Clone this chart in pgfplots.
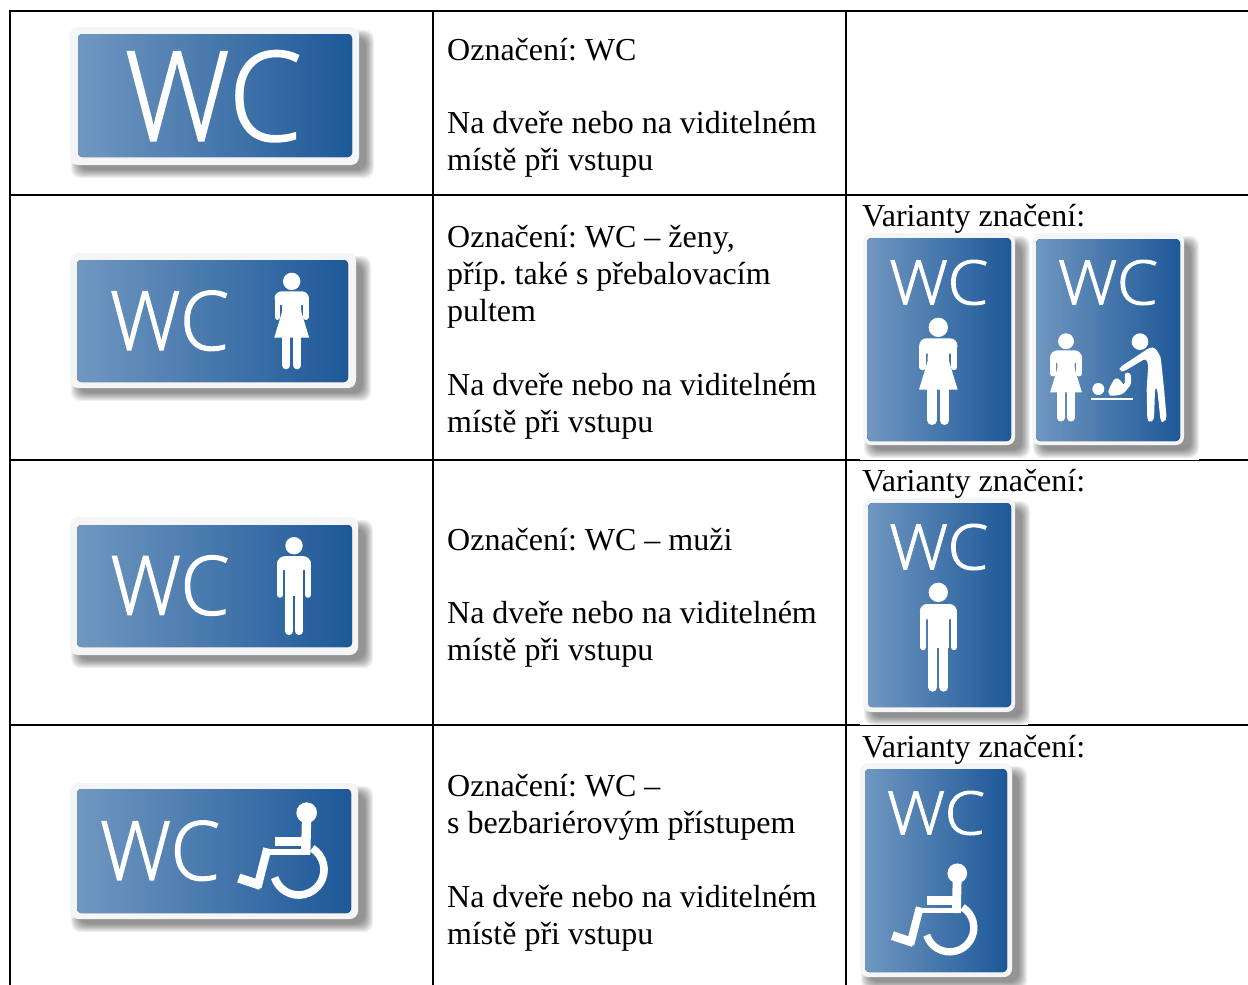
\documentclass[border=0pt]{standalone}
\usepackage{pgfplots}
\pgfplotsset{compat=1.18}
\usepackage{graphicx}
\usepackage{fontspec}
\setmainfont{Liberation Serif}
\newfontfamily\wcfont[FakeBold=1.6]{Open Sans Light}
\definecolor{bluea}{HTML}{7097C0}
\definecolor{blueb}{HTML}{1D5898}
\definecolor{rim}{HTML}{F3F5F7}
\tikzset{gl/.style n args={3}{white, shift={(axis cs:#1,#2)}, yscale=-1, scale=#3}}
\newcommand\txt{\fontsize{32}{37}\selectfont\frenchspacing}
\newcommand\tline[3]{\node[anchor=base west,inner sep=0pt,font=\txt,text=black] at (axis cs:#1,#2) {#3};}
\newcommand\shadowrect[4]{\fill[black,opacity=0.06,rounded corners=9pt] (axis cs:#1,#2) rectangle (axis cs:#3,#4);}
\newcommand\sign[8]{%
  \shadowrect{#1+1}{#2+3}{#3+15}{#4+13}%
  \shadowrect{#1+2}{#2+4}{#3+14}{#4+12}%
  \shadowrect{#1+3}{#2+5}{#3+13}{#4+11}%
  \shadowrect{#1+4}{#2+6}{#3+12}{#4+10}%
  \shadowrect{#1+5}{#2+7}{#3+11}{#4+9}%
  \shadowrect{#1+6}{#2+8}{#3+10}{#4+8}%
  \shadowrect{#1+7}{#2+9}{#3+9}{#4+7}%
  \shadowrect{#1+8}{#2+10}{#3+8}{#4+6}%
  \shadowrect{#1+9}{#2+11}{#3+7}{#4+5}%
  \fill[rim,rounded corners=8pt] (axis cs:#1,#2) rectangle (axis cs:#3,#4);
  \fill[left color=bluea,right color=blueb,rounded corners=4pt] (axis cs:#5,#6) rectangle (axis cs:#7,#8);
}
\newcommand\wc[4]{\node[inner sep=0pt,text=white] at (axis cs:#1,#2) {\resizebox*{#3pt}{#4pt}{\wcfont WC}};}
\newcommand\woman[3]{%
  \fill[gl={#1}{#2}{#3}] (0pt,29pt) circle[radius=29pt];
  \fill[gl={#1}{#2}{#3},rounded corners=7pt] (-57pt,62pt) rectangle (57pt,108pt);
  \draw[gl={#1}{#2}{#3},line width=#3*19pt,line cap=round] (-47.5pt,85pt) -- (-47.5pt,148pt);
  \draw[gl={#1}{#2}{#3},line width=#3*19pt,line cap=round] (47.5pt,85pt) -- (47.5pt,148pt);
  \fill[gl={#1}{#2}{#3}] (-31pt,90pt) -- (31pt,90pt) -- (32pt,130pt) -- (58pt,216pt) -- (-58pt,216pt) -- (-32pt,130pt) -- cycle;
  \draw[gl={#1}{#2}{#3},line width=#3*28pt,line cap=round] (-18.5pt,210pt) -- (-18.5pt,308pt);
  \draw[gl={#1}{#2}{#3},line width=#3*28pt,line cap=round] (18.5pt,210pt) -- (18.5pt,308pt);
}
\newcommand\man[3]{%
  \fill[gl={#1}{#2}{#3}] (0pt,29pt) circle[radius=29pt];
  \fill[gl={#1}{#2}{#3},rounded corners=7pt] (-55pt,64pt) rectangle (55pt,110pt);
  \draw[gl={#1}{#2}{#3},line width=#3*19pt,line cap=round] (-46.5pt,85pt) -- (-46.5pt,193pt);
  \draw[gl={#1}{#2}{#3},line width=#3*19pt,line cap=round] (46.5pt,85pt) -- (46.5pt,193pt);
  \fill[gl={#1}{#2}{#3}] (-31pt,90pt) rectangle (31pt,195pt);
  \draw[gl={#1}{#2}{#3},line width=#3*28pt,line cap=round] (-16.5pt,185pt) -- (-16.5pt,313pt);
  \draw[gl={#1}{#2}{#3},line width=#3*28pt,line cap=round] (16.5pt,185pt) -- (16.5pt,313pt);
}
\newcommand\wheel[3]{%
  \fill[gl={#1}{#2}{#3}] (0pt,0pt) circle[radius=31pt];
  \draw[gl={#1}{#2}{#3},line width=#3*28pt] (0pt,0pt) -- (-3pt,125pt);
  \draw[gl={#1}{#2}{#3},line width=#3*29pt] (-95pt,86pt) -- (5pt,86pt);
  \draw[gl={#1}{#2}{#3},line width=#3*18pt] (-124pt,117pt) -- (11pt,117pt);
  \draw[gl={#1}{#2}{#3},line width=#3*25pt] (-118pt,107pt) -- (-148pt,224pt);
  \draw[gl={#1}{#2}{#3},line width=#3*28pt] (-204pt,196pt) -- (-138pt,218pt);
  \draw[gl={#1}{#2}{#3},line width=#3*23pt] (16.3pt,106.6pt) arc[start angle=-58,end angle=162,radius=76pt];
}
\begin{document}
\begin{tikzpicture}
\useasboundingbox (0pt,0pt) rectangle (1248pt,985pt);
\begin{axis}[scale only axis,width=1248pt,height=985pt,xmin=0,xmax=1248,ymin=0,ymax=985,y dir=reverse,axis lines=none,ticks=none,clip=false]
% table rules
\addplot[black,line width=2pt] coordinates {(9,11) (1248,11)};
\addplot[black,line width=2pt] coordinates {(9,195) (1248,195)};
\addplot[black,line width=2pt] coordinates {(9,460) (1248,460)};
\addplot[black,line width=2pt] coordinates {(9,725) (1248,725)};
\addplot[black,line width=2pt] coordinates {(10,10) (10,985)};
\addplot[black,line width=2pt] coordinates {(433,10) (433,985)};
\addplot[black,line width=2pt] coordinates {(846,10) (846,985)};
% white image backgrounds that cut into the rules
\fill[white] (axis cs:860,445) rectangle (axis cs:1199,460);
\fill[white] (axis cs:860,710) rectangle (axis cs:1028,725);
% signs
\sign{70}{27}{359}{165}{78}{34}{352}{157}
\wc{213.3}{96.2}{177}{91}
\sign{70}{253}{356}{388}{77}{260}{348}{382}
\wc{169.5}{320.7}{119}{60}
\woman{291.7}{272.7}{0.30}
\sign{70}{517}{358}{655}{77}{525}{352}{647}
\wc{170}{585.5}{119}{60}
\man{294}{537}{0.30}
\sign{70}{783}{358}{919}{77}{789}{351}{913}
\wc{160}{850.7}{120}{60}
\wheel{306.7}{812.7}{0.3333}
\sign{863}{233}{1015}{445}{867}{238}{1011}{441}
\wc{938.8}{282.5}{99}{45}
\woman{938.3}{317.7}{0.3333}
\sign{1032}{233}{1184}{445}{1036}{239}{1180}{441}
\wc{1108}{282.5}{100}{45}
\woman{1066}{333.3}{0.274}
% adult and child at the changing table, in units of 1/3 px from (1040,325)
\fill[gl={1040}{325}{0.3333}] (300pt,50pt) circle[radius=25pt];
\fill[gl={1040}{325}{0.3333},rounded corners=3pt] (238pt,128pt) -- (330pt,67pt) -- (345pt,68pt) -- (362pt,95pt) -- (372pt,190pt) -- (380pt,280pt) -- (372pt,292pt) -- (362pt,290pt) -- (352pt,195pt) -- (348pt,185pt) -- (345pt,195pt) -- (342pt,285pt) -- (330pt,292pt) -- (322pt,285pt) -- (320pt,190pt) -- (325pt,120pt) -- (318pt,100pt) -- (250pt,140pt) -- (240pt,138pt) -- cycle;
\fill[gl={1040}{325}{0.3333}] (175pt,192pt) circle[radius=18pt];
\fill[gl={1040}{325}{0.3333},rounded corners=3pt] (205pt,195pt) -- (225pt,158pt) -- (240pt,163pt) -- (252pt,183pt) -- (256pt,165pt) -- (253pt,143pt) -- (272pt,143pt) -- (274pt,177pt) -- (250pt,207pt) -- (215pt,214pt) -- (205pt,207pt) -- cycle;
\fill[gl={1040}{325}{0.3333}] (152pt,219pt) rectangle (280pt,226pt);
\sign{863}{498}{1015}{712}{868}{503}{1011}{707}
\wc{938.8}{547}{99}{46}
\man{938.3}{582.7}{0.3333}
\sign{860}{763}{1012}{977}{865}{769}{1007}{972}
\wc{936}{813}{98}{44}
\wheel{957.3}{873.3}{0.318}
% text
\tline{447}{60}{Označení: WC}
\tline{447}{133}{Na dveře nebo na viditelném}
\tline{447}{170}{místě při vstupu}
\tline{447}{247}{Označení: WC – ženy,}
\tline{447}{284}{příp. také s přebalovacím}
\tline{447}{321}{pultem}
\tline{447}{395}{Na dveře nebo na viditelném}
\tline{447}{432}{místě při vstupu}
\tline{447}{550}{Označení: WC – muži}
\tline{447}{623}{Na dveře nebo na viditelném}
\tline{447}{660}{místě při vstupu}
\tline{447}{796}{Označení: WC –}
\tline{447}{833}{s bezbariérovým přístupem}
\tline{447}{907}{Na dveře nebo na viditelném}
\tline{447}{944}{místě při vstupu}
\tline{862}{226}{Varianty značení:}
\tline{862}{491}{Varianty značení:}
\tline{862}{757}{Varianty značení:}
\end{axis}
\end{tikzpicture}
\end{document}
